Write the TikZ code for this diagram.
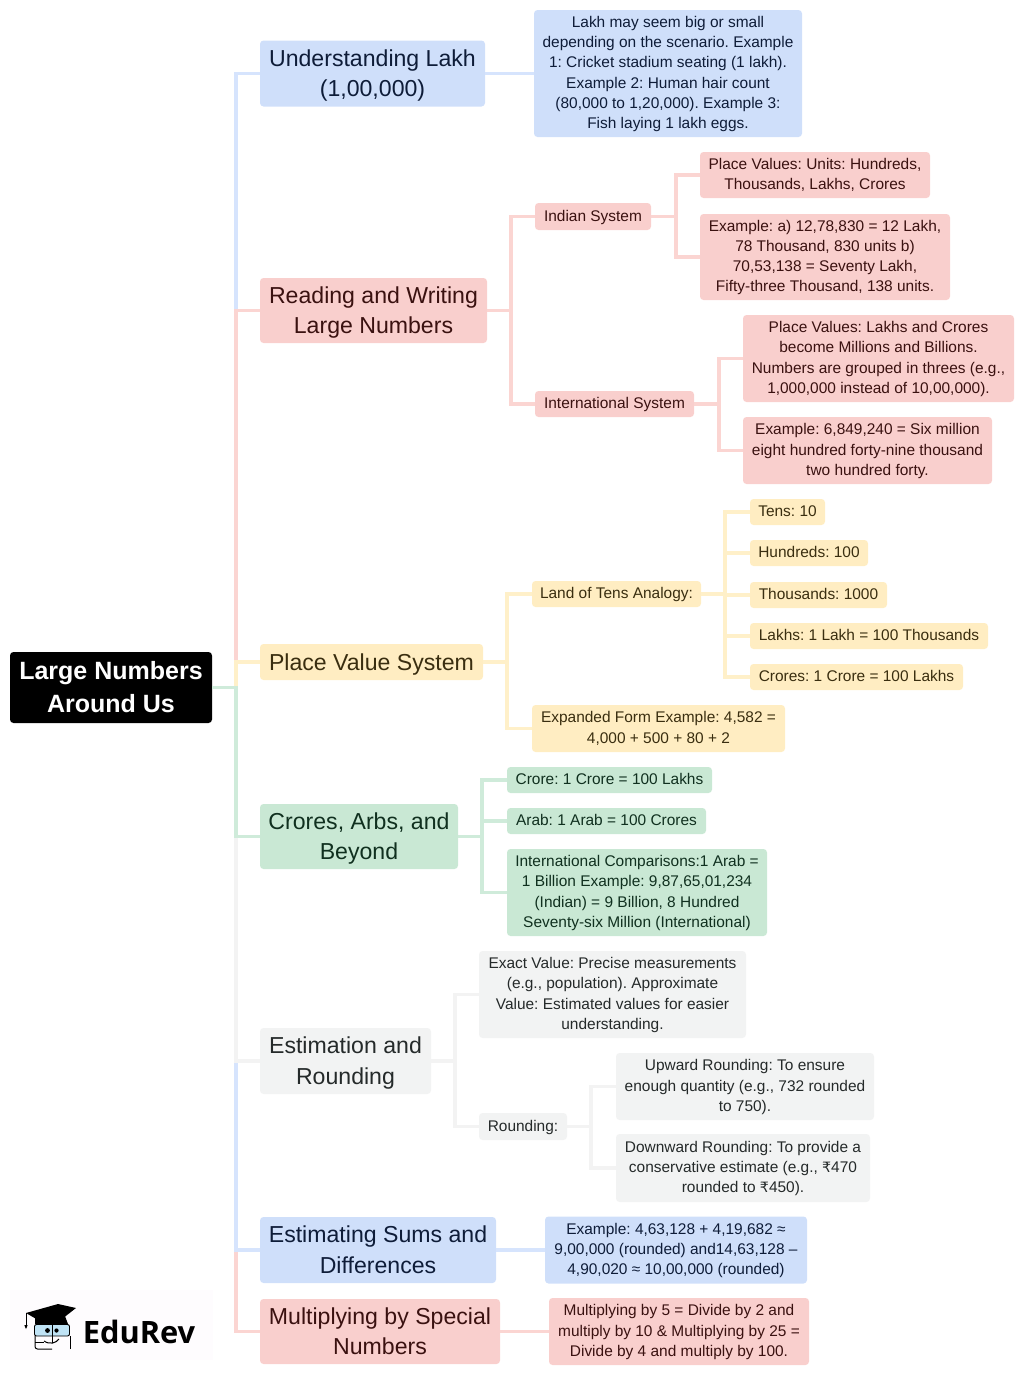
\documentclass[tikz,border=0pt]{standalone}
\usepackage{fontspec}
\setmainfont{Liberation Sans}
\newfontfamily\logofont{Open Sans}
\newfontfamily\rupeefont[Scale=0.92]{DejaVu Sans}
\frenchspacing

\newlength{\du}
\setlength{\du}{1pt}

\definecolor{bluefill}{HTML}{CFDFFA}
\definecolor{blueline}{HTML}{D6E4FD}
\definecolor{bluetext}{HTML}{0E1C38}
\definecolor{redfill}{HTML}{F9CFCD}
\definecolor{redline}{HTML}{FBD5D2}
\definecolor{redtext}{HTML}{3A1110}
\definecolor{yellowfill}{HTML}{FFEDC2}
\definecolor{yellowline}{HTML}{FFF0C9}
\definecolor{yellowtext}{HTML}{3A2E10}
\definecolor{greenfill}{HTML}{C9E8D4}
\definecolor{greenline}{HTML}{CFEBDA}
\definecolor{greentext}{HTML}{10301F}
\definecolor{greyfill}{HTML}{F2F3F3}
\definecolor{greyline}{HTML}{F3F3F3}
\definecolor{greytext}{HTML}{252A2A}
\definecolor{logoglass}{HTML}{BFE3F5}
\definecolor{logoback}{HTML}{FEFCFE}

\newcommand{\smalllines}[1]{\rule[-5pt]{0pt}{19pt}#1\rule[-5pt]{0pt}{19pt}}
\newcommand{\biglines}[1]{\rule[-7pt]{0pt}{30pt}#1\rule[-7pt]{0pt}{30pt}}

\tikzset{
  basebox/.style={rounded corners=3.5\du, inner sep=0pt, align=center},
  smallbox/.style={basebox, font=\fontsize{15.45}{20.2}\selectfont},
  bigbox/.style={basebox, font=\fontsize{23.1}{30.3}\selectfont},
  rootbox/.style={basebox, fill=black, text=white, font=\fontsize{25}{33}\selectfont\bfseries},
  bluebox/.style={fill=bluefill, text=bluetext},
  redbox/.style={fill=redfill, text=redtext},
  yellowbox/.style={fill=yellowfill, text=yellowtext},
  greenbox/.style={fill=greenfill, text=greentext},
  greybox/.style={fill=greyfill, text=greytext},
  link/.style={line width=3.2\du},
  bluelink/.style={link, draw=blueline},
  redlink/.style={link, draw=redline},
  yellowlink/.style={link, draw=yellowline},
  greenlink/.style={link, draw=greenline},
  greylink/.style={link, draw=greyline},
}

\begin{document}
\begin{tikzpicture}
\pgftransformxscale{1.000000}
\pgftransformyscale{-1.000000}
\useasboundingbox (0\du,0\du) rectangle (1024\du,1374\du);

\node[rootbox, minimum width=202\du, minimum height=71\du] (root) at (111\du,687.5\du) {Large Numbers\\Around Us};

% first level
\node[bigbox, bluebox, minimum width=225\du, minimum height=66\du] (lakh) at (372.5\du,73.5\du) {\biglines{Understanding Lakh\\(1,00,000)}};
\node[bigbox, redbox, minimum width=227\du, minimum height=65\du] (reading) at (373.5\du,310.5\du) {\biglines{Reading and Writing\\Large Numbers}};
\node[bigbox, yellowbox, minimum width=223\du, minimum height=36\du] (placevalue) at (371.5\du,662\du) {\biglines{Place Value System}};
\node[bigbox, greenbox, minimum width=198\du, minimum height=65\du] (crores) at (359\du,836.5\du) {\biglines{Crores, Arbs, and\\Beyond}};
\node[bigbox, greybox, minimum width=171\du, minimum height=66\du] (estimation) at (345.5\du,1061\du) {\biglines{Estimation and\\Rounding}};
\node[bigbox, bluebox, minimum width=236\du, minimum height=66\du] (sums) at (378\du,1250\du) {\biglines{Estimating Sums and\\Differences}};
\node[bigbox, redbox, minimum width=240\du, minimum height=65\du] (special) at (380\du,1331.5\du) {\biglines{Multiplying by Special\\Numbers}};

% understanding lakh
\node[smallbox, bluebox, minimum width=268\du, minimum height=127\du] (lakhtext) at (668\du,73.5\du) {\smalllines{Lakh may seem big or small\\depending on the scenario. Example\\1: Cricket stadium seating (1 lakh).\\Example 2: Human hair count\\(80,000 to 1,20,000). Example 3:\\Fish laying 1 lakh eggs.}};

% reading and writing
\node[smallbox, redbox, minimum width=116\du, minimum height=27\du] (indian) at (593\du,216.5\du) {\smalllines{Indian System}};
\node[smallbox, redbox, minimum width=230\du, minimum height=46\du] (indianvalues) at (815\du,175\du) {\smalllines{Place Values: Units: Hundreds,\\Thousands, Lakhs, Crores}};
\node[smallbox, redbox, minimum width=250\du, minimum height=86\du] (indianexample) at (825\du,257\du) {\smalllines{Example: a) 12,78,830 = 12 Lakh,\\78 Thousand, 830 units b)\\70,53,138 = Seventy Lakh,\\Fifty-three Thousand, 138 units.}};
\node[smallbox, redbox, minimum width=159\du, minimum height=26\du] (intl) at (614.5\du,404\du) {\smalllines{International System}};
\node[smallbox, redbox, minimum width=271\du, minimum height=87\du] (intlvalues) at (878.5\du,358.5\du) {\smalllines{Place Values: Lakhs and Crores\\become Millions and Billions.\\Numbers are grouped in threes (e.g.,\\1,000,000 instead of 10,00,000).}};
\node[smallbox, redbox, minimum width=249\du, minimum height=67\du] (intlexample) at (867.5\du,450.5\du) {\smalllines{Example: 6,849,240 = Six million\\eight hundred forty-nine thousand\\two hundred forty.}};

% place value system
\node[smallbox, yellowbox, minimum width=169\du, minimum height=26\du] (tens) at (616.5\du,594\du) {\smalllines{Land of Tens Analogy:}};
\node[smallbox, yellowbox, minimum width=75\du, minimum height=26\du] (tensa) at (787.5\du,512\du) {\smalllines{Tens: 10}};
\node[smallbox, yellowbox, minimum width=118\du, minimum height=26\du] (tensb) at (809\du,553\du) {\smalllines{Hundreds: 100}};
\node[smallbox, yellowbox, minimum width=137\du, minimum height=26\du] (tensc) at (818.5\du,595\du) {\smalllines{Thousands: 1000}};
\node[smallbox, yellowbox, minimum width=238\du, minimum height=26\du] (tensd) at (869\du,636\du) {\smalllines{Lakhs: 1 Lakh = 100 Thousands}};
\node[smallbox, yellowbox, minimum width=213\du, minimum height=26\du] (tense) at (856.5\du,677\du) {\smalllines{Crores: 1 Crore = 100 Lakhs}};
\node[smallbox, yellowbox, minimum width=253\du, minimum height=47\du] (expanded) at (658.5\du,728.5\du) {\smalllines{Expanded Form Example: 4,582 =\\4,000 + 500 + 80 + 2}};

% crores and arbs
\node[smallbox, greenbox, minimum width=205\du, minimum height=26\du] (crore) at (609.5\du,780\du) {\smalllines{Crore: 1 Crore = 100 Lakhs}};
\node[smallbox, greenbox, minimum width=199\du, minimum height=26\du] (arab) at (606.5\du,821\du) {\smalllines{Arab: 1 Arab = 100 Crores}};
\node[smallbox, greenbox, minimum width=260\du, minimum height=87\du] (compare) at (637\du,892.5\du) {\smalllines{International Comparisons:1 Arab =\\1 Billion Example: 9,87,65,01,234\\(Indian) = 9 Billion, 8 Hundred\\Seventy-six Million (International)}};

% estimation
\node[smallbox, greybox, minimum width=267\du, minimum height=87\du] (exact) at (612.5\du,994.5\du) {\smalllines{Exact Value: Precise measurements\\(e.g., population). Approximate\\Value: Estimated values for easier\\understanding.}};
\node[smallbox, greybox, minimum width=88\du, minimum height=27\du] (rounding) at (523\du,1126.5\du) {\smalllines{Rounding:}};
\node[smallbox, greybox, minimum width=258\du, minimum height=67\du] (upward) at (745\du,1086.5\du) {\smalllines{Upward Rounding: To ensure\\enough quantity (e.g., 732 rounded\\to 750).}};
\node[smallbox, greybox, minimum width=254\du, minimum height=68\du] (downward) at (743\du,1168\du) {\smalllines{Downward Rounding: To provide a\\conservative estimate (e.g., {\rupeefont ₹}470\\rounded to {\rupeefont ₹}450).}};

% sums and special numbers
\node[smallbox, bluebox, minimum width=262\du, minimum height=67\du] (sumstext) at (676\du,1250\du) {\smalllines{Example: 4,63,128 + 4,19,682 ≈\\9,00,000 (rounded) and14,63,128 –\\4,90,020 ≈ 10,00,000 (rounded)}};
\node[smallbox, redbox, minimum width=260\du, minimum height=67\du] (specialtext) at (679\du,1331.5\du) {\smalllines{Multiplying by 5 = Divide by 2 and\\multiply by 10 \& Multiplying by 25 =\\Divide by 4 and multiply by 100.}};

% links from the root, the nearer ones lie on top
\coordinate (trunk) at (236\du,687.5\du);
\draw[bluelink] (root.east) -- (trunk) |- (lakh.west);
\draw[redlink] (root.east) -- (trunk) |- (reading.west);
\draw[yellowlink] (root.east) -- (trunk) |- (placevalue.west);
\draw[redlink] (root.east) -- (trunk) |- (special.west);
\draw[bluelink] (root.east) -- (trunk) |- (sums.west);
\draw[greylink] (root.east) -- (trunk) |- (estimation.west);
\draw[greenlink] (root.east) -- (trunk) |- (crores.west);

\draw[bluelink] (lakh.east) -- (lakhtext.west);
\draw[bluelink] (sums.east) -- (sumstext.west);
\draw[redlink] (special.east) -- (specialtext.west);

\coordinate (readingfork) at (511\du,310.5\du);
\draw[redlink] (reading.east) -- (readingfork) |- (indian.west);
\draw[redlink] (reading.east) -- (readingfork) |- (intl.west);
\coordinate (indianfork) at (676\du,216.5\du);
\draw[redlink] (indian.east) -- (indianfork) |- (indianvalues.west);
\draw[redlink] (indian.east) -- (indianfork) |- (indianexample.west);
\coordinate (intlfork) at (719\du,404\du);
\draw[redlink] (intl.east) -- (intlfork) |- (intlvalues.west);
\draw[redlink] (intl.east) -- (intlfork) |- (intlexample.west);

\coordinate (placefork) at (507\du,662\du);
\draw[yellowlink] (placevalue.east) -- (placefork) |- (tens.west);
\draw[yellowlink] (placevalue.east) -- (placefork) |- (expanded.west);
\coordinate (tensfork) at (725\du,594\du);
\draw[yellowlink] (tens.east) -- (tensfork) |- (tensa.west);
\draw[yellowlink] (tens.east) -- (tensfork) |- (tensb.west);
\draw[yellowlink] (tens.east) -- (tensfork) |- (tensc.west);
\draw[yellowlink] (tens.east) -- (tensfork) |- (tensd.west);
\draw[yellowlink] (tens.east) -- (tensfork) |- (tense.west);

\coordinate (croresfork) at (482\du,836.5\du);
\draw[greenlink] (crores.east) -- (croresfork) |- (crore.west);
\draw[greenlink] (crores.east) -- (croresfork) |- (arab.west);
\draw[greenlink] (crores.east) -- (croresfork) |- (compare.west);

\coordinate (estimationfork) at (455\du,1061\du);
\draw[greylink] (estimation.east) -- (estimationfork) |- (exact.west);
\draw[greylink] (estimation.east) -- (estimationfork) |- (rounding.west);
\coordinate (roundingfork) at (591\du,1126.5\du);
\draw[greylink] (rounding.east) -- (roundingfork) |- (upward.west);
\draw[greylink] (rounding.east) -- (roundingfork) |- (downward.west);

% logo
\fill[logoback] (10\du,1290\du) rectangle (213\du,1360\du);
\node[font=\logofont\fontsize{30.8}{31}\selectfont\bfseries, text=black, inner sep=0pt] (logotext) at (139\du,1331.5\du) {EduRev};
\fill[black] (26\du,1313\du) -- (58\du,1304\du) -- (76\du,1308\du) -- (62\du,1319\du) -- (38\du,1320\du) -- cycle;
\fill[black] (35\du,1316\du) -- (65\du,1316\du) -- (68\du,1324\du) -- (35\du,1324\du) -- cycle;
\draw[black, line width=0.8\du] (26\du,1313\du) -- (26\du,1326\du);
\fill[black] (24.3\du,1325\du) -- (27.7\du,1325\du) -- (26\du,1329\du) -- cycle;
\filldraw[rounded corners=2\du, draw=black, line width=0.9\du, fill=logoglass] (34.5\du,1324.5\du) rectangle (69.5\du,1336\du);
\draw[black, line width=1\du] (52\du,1324.5\du) -- (52\du,1343\du);
\draw[black, line width=1\du, rounded corners=2.5\du] (35\du,1336\du) -- (35\du,1349\du) -- (52\du,1349\du);
\draw[black, line width=1\du] (35\du,1342\du) -- (44\du,1342\du);
\draw[black, line width=1\du] (70\du,1336\du) -- (70\du,1349\du);
\draw[black, line width=1\du] (44\du,1341\du) .. controls (50\du,1345\du) and (56\du,1343\du) .. (59\du,1339\du);
\fill[black] (47.5\du,1330.5\du) circle (2.4\du);
\fill[black] (56.5\du,1330.5\du) circle (2.1\du);
\end{tikzpicture}
\end{document}
